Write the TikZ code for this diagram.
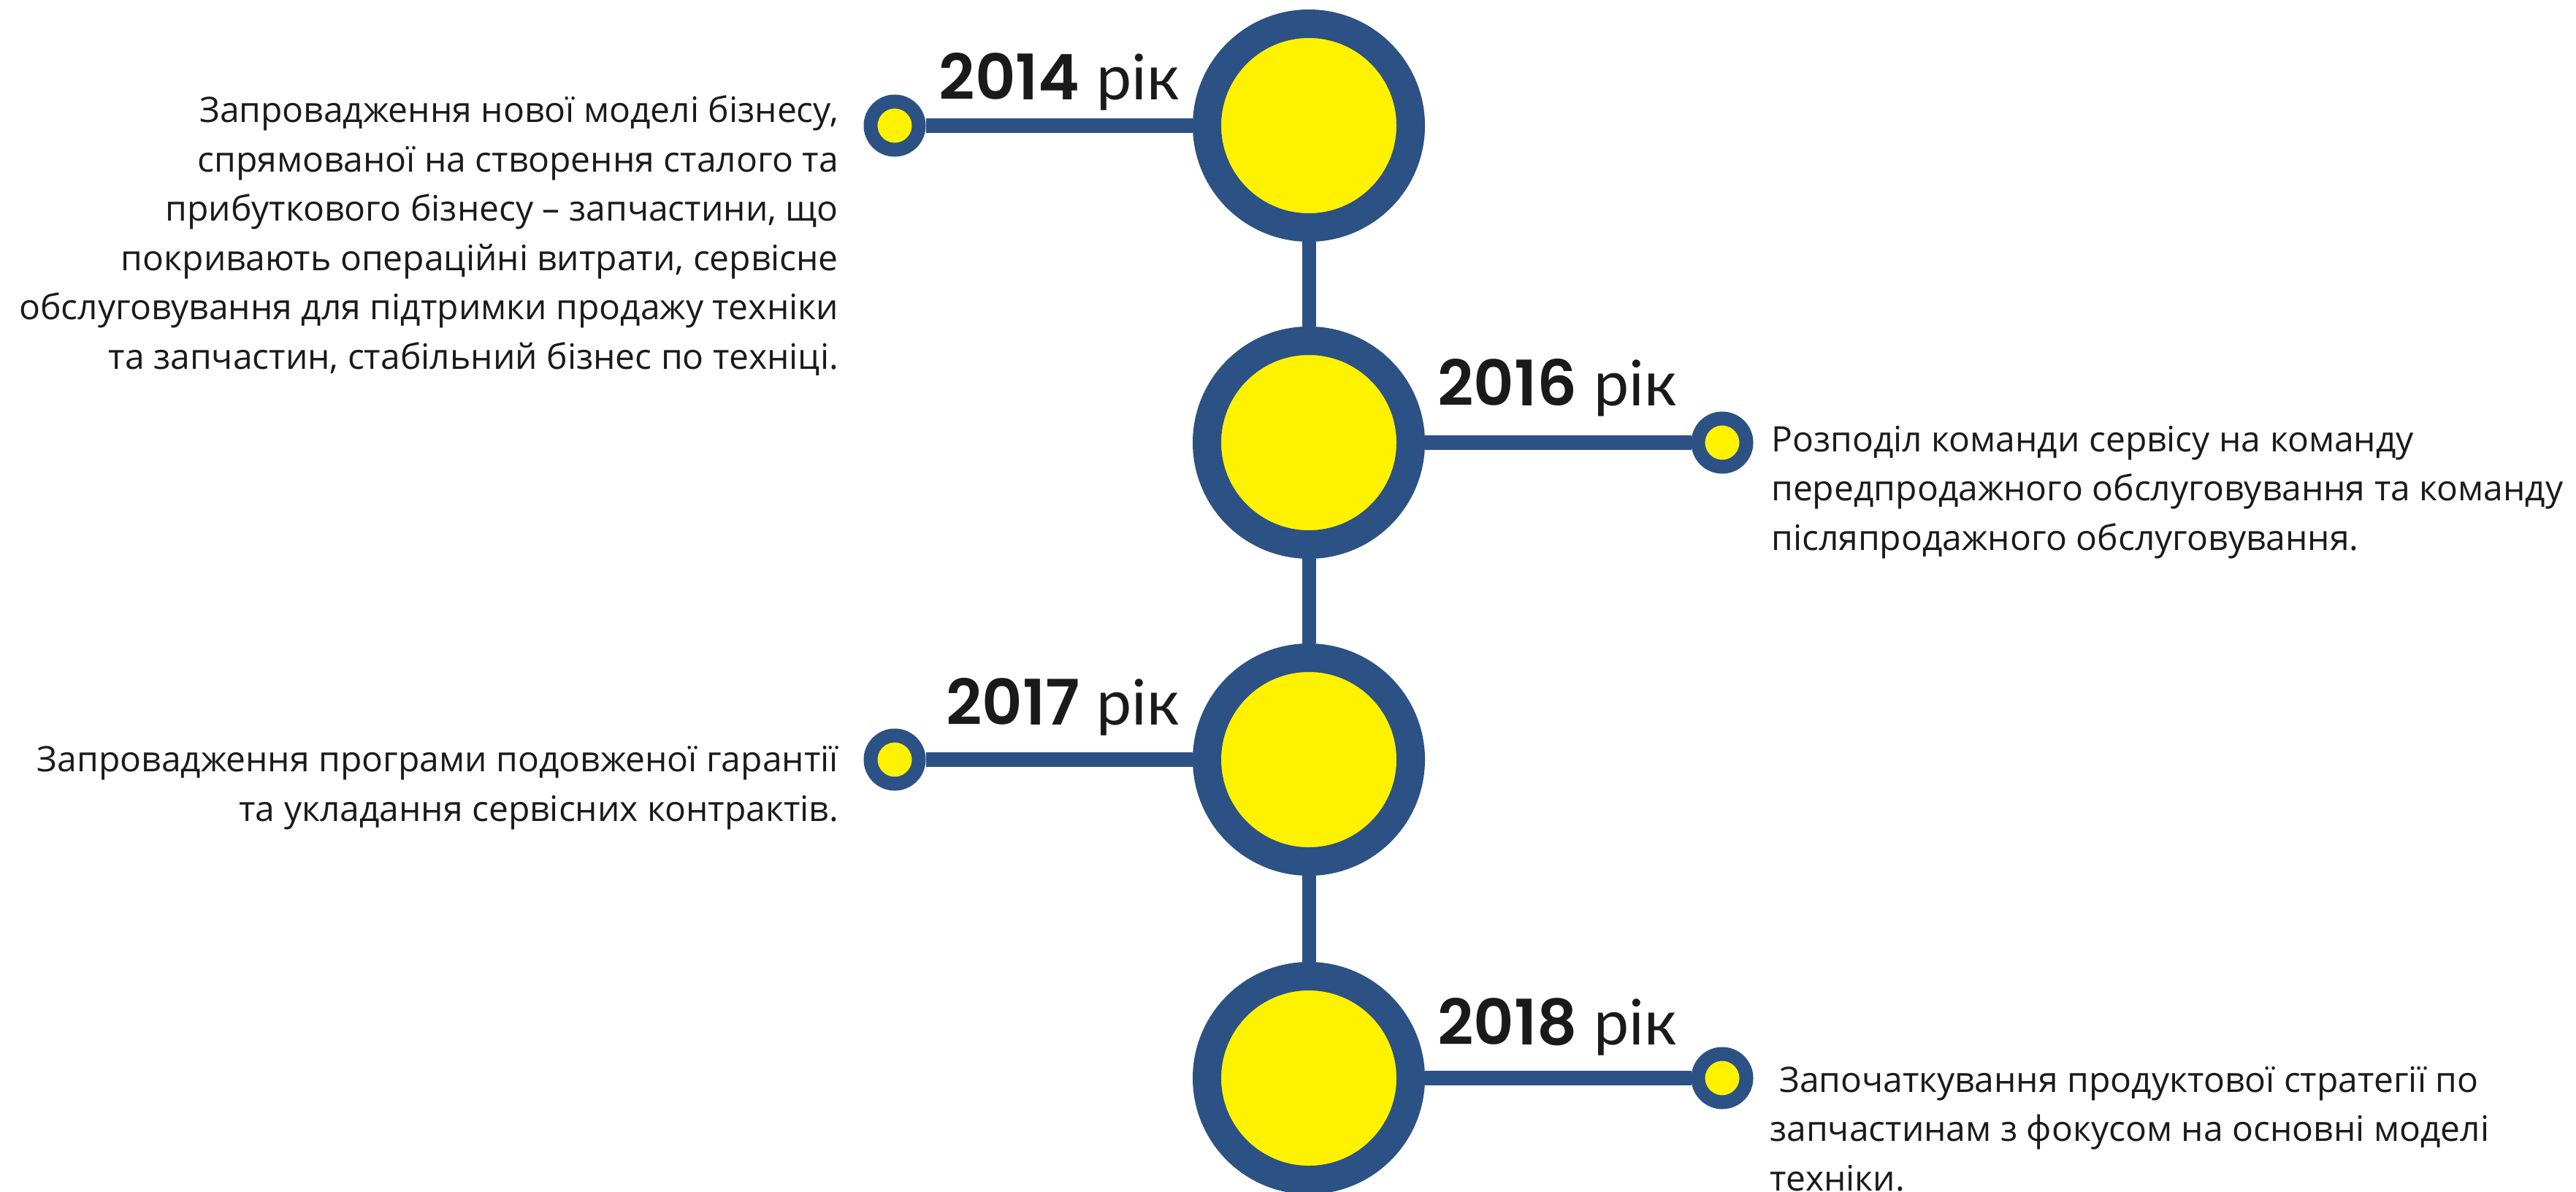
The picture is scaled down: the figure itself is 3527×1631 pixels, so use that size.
\documentclass[tikz,border=0pt]{standalone}
\usepackage{fontspec}
\setmainfont{Open Sans}
\newfontfamily\yearfont{Poppins}[BoldFont={Poppins SemiBold}]
\newfontfamily\yearword{Lato}
\definecolor{tlblue}{RGB}{44,81,133}
\definecolor{tlyellow}{RGB}{255,242,0}
\definecolor{tltext}{RGB}{26,26,26}
\begin{document}
\begin{tikzpicture}[x=1pt,y=-1pt,
  bigdot/.style={circle, draw=tlblue, fill=tlyellow, line width=39pt, minimum size=279pt, inner sep=0pt},
  smalldot/.style={circle, draw=tlblue, fill=tlyellow, line width=19pt, minimum size=66pt, inner sep=0pt},
  trunk/.style={draw=tlblue, line width=19pt},
  branch/.style={draw=tlblue, line width=20pt},
  yearlabel/.style={inner sep=0pt, text=tltext, font=\yearfont\fontsize{86}{86}\selectfont},
  desc/.style={inner sep=0pt, text=tltext, font=\fontsize{48}{67.5}\selectfont}]
\useasboundingbox[fill=white] (0,0) rectangle (3527,1631);

% timeline
\node[bigdot] (c1) at (1792,172) {};
\node[bigdot] (c2) at (1792,606) {};
\node[bigdot] (c3) at (1792,1040) {};
\node[bigdot] (c4) at (1792,1476) {};
\draw[trunk] (c1) -- (c2);
\draw[trunk] (c2) -- (c3);
\draw[trunk] (c3) -- (c4);

\node[smalldot] (s1) at (1225,172) {};
\node[smalldot] (s2) at (2358,606) {};
\node[smalldot] (s3) at (1225,1040) {};
\node[smalldot] (s4) at (2358,1476) {};
\draw[branch] (s1) -- (c1);
\draw[branch] (c2) -- (s2);
\draw[branch] (s3) -- (c3);
\draw[branch] (c4) -- (s4);

% years
\node[yearlabel, anchor=base east] (y1) at (1615,136) {{\bfseries 2014} {\yearword рік}};
\node[yearlabel, anchor=base west] (y2) at (1968,555) {{\bfseries 2016} {\yearword рік}};
\node[yearlabel, anchor=base east] (y3) at (1615,992) {{\bfseries 2017} {\yearword рік}};
\node[yearlabel, anchor=base west] (y4) at (1968,1430) {{\bfseries 2018} {\yearword рік}};

% descriptions (base anchor = baseline of the last line)
\node[desc, anchor=base east, align=right] (d1) at (1148,505) {Запровадження нової моделі бізнесу,\\
спрямованої на створення сталого та\\
прибуткового бізнесу – запчастини, що\\
покривають операційні витрати, сервісне\\
обслуговування для підтримки продажу техніки\\
та запчастин, стабільний бізнес по техніці.};
\node[desc, anchor=base west, align=left] (d2) at (2425,753) {Розподіл команди сервісу на команду\\
передпродажного обслуговування та команду\\
післяпродажного обслуговування.};
\node[desc, anchor=base east, align=right] (d3) at (1148,1124) {Запровадження програми подовженої гарантії\\
та укладання сервісних контрактів.};
\node[desc, anchor=base west, align=left] (d4) at (2423,1630) {\hspace*{0.27em}Започаткування продуктової стратегії по\\
запчастинам з фокусом на основні моделі\\
техніки.};
\end{tikzpicture}
\end{document}
